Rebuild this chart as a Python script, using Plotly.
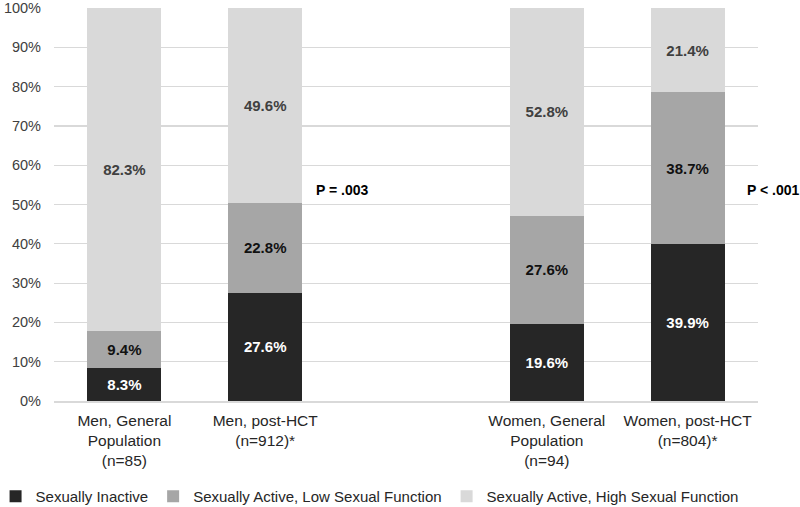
import plotly.graph_objects as go

categories = ["Men, General<br>Population<br>(n=85)", "Men, post-HCT<br>(n=912)*",
              "Women, General<br>Population<br>(n=94)", "Women, post-HCT<br>(n=804)*"]
x_pos = [0, 1, 3, 4]
inactive = [8.3, 27.6, 19.6, 39.9]
low_func = [9.4, 22.8, 27.6, 38.7]
high_func = [82.3, 49.6, 52.8, 21.4]
series_names = ["Sexually Inactive", "Sexually Active, Low Sexual Function",
                "Sexually Active, High Sexual Function"]
p_labels = ["P = .003", "P < .001"]
p_x = [1.344, 4.405]
p_y = [53.7, 53.7]
y_ticks = [0, 10, 20, 30, 40, 50, 60, 70, 80, 90, 100]

colors = ["#262626", "#a6a6a6", "#d9d9d9"]
text_colors = ["#ffffff", "#111111", "#404040"]
FONT = "Liberation Sans, Arial, sans-serif"

fig = go.Figure()
for name, vals, c, tc in zip(series_names, [inactive, low_func, high_func], colors, text_colors):
    fig.add_trace(go.Bar(
        x=x_pos, y=vals, name=name, marker=dict(color=c, line=dict(width=0)),
        text=[f"{v:.1f}%" for v in vals], textposition="inside",
        insidetextanchor="middle", textangle=0,
        textfont=dict(family=FONT, size=15, color=tc, weight="bold"),
        hoverinfo="skip",
    ))

for t, xx, yy in zip(p_labels, p_x, p_y):
    fig.add_annotation(x=xx, y=yy, xref="x", yref="y", text=t, showarrow=False,
                       xanchor="left", yanchor="middle",
                       font=dict(family=FONT, size=14, color="#000000", weight="bold"))

fig.update_layout(
    barmode="stack", bargap=0.475,
    width=800, height=507,
    margin=dict(l=54, r=42, t=8, b=106, autoexpand=False),
    plot_bgcolor="white", paper_bgcolor="white",
    font=dict(family=FONT, color="#404040"),
    legend=dict(orientation="h", x=-0.083, xanchor="left", y=-0.243, yanchor="middle",
                font=dict(family=FONT, size=15, color="#262626"),
                itemwidth=30, traceorder="normal", itemclick=False),
    xaxis=dict(range=[-0.5, 4.5], tickmode="array", tickvals=x_pos, ticktext=categories,
               tickfont=dict(family=FONT, size=15.5, color="#262626"),
               showgrid=False, showline=True, linecolor="#d9d9d9", linewidth=1.5,
               ticks="", zeroline=False, automargin=False, ticklabelstandoff=5),
    yaxis=dict(range=[0, 100], tickmode="array", tickvals=y_ticks,
               ticktext=[f"{v}%" for v in y_ticks],
               tickfont=dict(family=FONT, size=14.5, color="#404040"),
               showgrid=True, gridcolor="#d9d9d9", gridwidth=1.2,
               zeroline=False, showline=False, ticks="", ticklabelstandoff=12,
               automargin=False),
)

fig.write_html("out.html", config={"displayModeBar": False, "staticPlot": True},
               post_script="document.body.style.margin='0';document.body.style.overflow='hidden';")
